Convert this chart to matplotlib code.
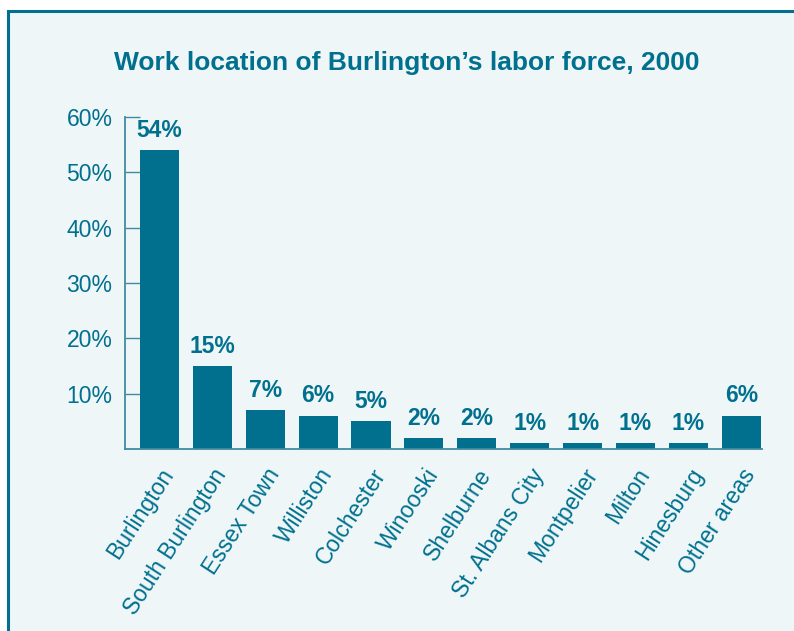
import matplotlib.pyplot as plt
import matplotlib.patches as patches
from matplotlib.ticker import FuncFormatter
import numpy as np

places = ["Burlington", "South Burlington", "Essex Town", "Williston", "Colchester",
          "Winooski", "Shelburne", "St. Albans City", "Montpelier", "Milton",
          "Hinesburg", "Other areas"]
shares = [54, 15, 7, 6, 5, 2, 2, 1, 1, 1, 1, 6]
y_ticks = [10, 20, 30, 40, 50, 60]

TEAL = "#00708e"
AXIS = "#3f8ba2"
BG = "#eef6f8"

plt.rcParams["font.family"] = ["Liberation Sans", "DejaVu Sans"]

fig = plt.figure(figsize=(7.94, 6.31), dpi=100, facecolor="white")

# panel frame (behind the axes)
frame = patches.Rectangle((8 / 794, -0.1), 1.2, 1.1 - 11 / 631,
                          transform=fig.transFigure, facecolor=BG,
                          edgecolor=TEAL, linewidth=2.2, zorder=-10)
fig.patches.append(frame)

ax = fig.add_axes([125 / 794, 1 - 449 / 631, (762 - 125) / 794, (449 - 117) / 631])
ax.set_facecolor("none")

x = np.arange(len(places))
bars = ax.bar(x, shares, width=0.74, color=TEAL, zorder=2)

for bar, v in zip(bars, shares):
    ax.annotate(f"{v}%", (bar.get_x() + bar.get_width() / 2, v),
                xytext=(0, 6), textcoords="offset points",
                ha="center", va="bottom", fontsize=16.5, fontweight="bold", color=TEAL)

ax.set_xlim(-0.65, 11.39)
ax.set_ylim(0, 60)
ax.set_yticks(y_ticks)
ax.yaxis.set_major_formatter(FuncFormatter(lambda v, _: f"{v:.0f}%"))
ax.tick_params(axis="y", direction="in", length=11, width=1, color=AXIS,
               labelsize=16.5, labelcolor=TEAL, pad=9)
ax.set_xticks(x)
ax.set_xticklabels(places, rotation=57, ha="right", va="top",
                   rotation_mode="anchor", fontsize=16.5, color=TEAL)
ax.tick_params(axis="x", length=0, pad=11)

for side in ["top", "right"]:
    ax.spines[side].set_visible(False)
for side in ["left", "bottom"]:
    ax.spines[side].set_color(AXIS)
    ax.spines[side].set_linewidth(1.3)

fig.text(0.512, 0.90, "Work location of Burlington\u2019s labor force, 2000",
         ha="center", va="center", fontsize=19, fontweight="bold", color=TEAL)

fig.savefig("out.png", dpi=100)
